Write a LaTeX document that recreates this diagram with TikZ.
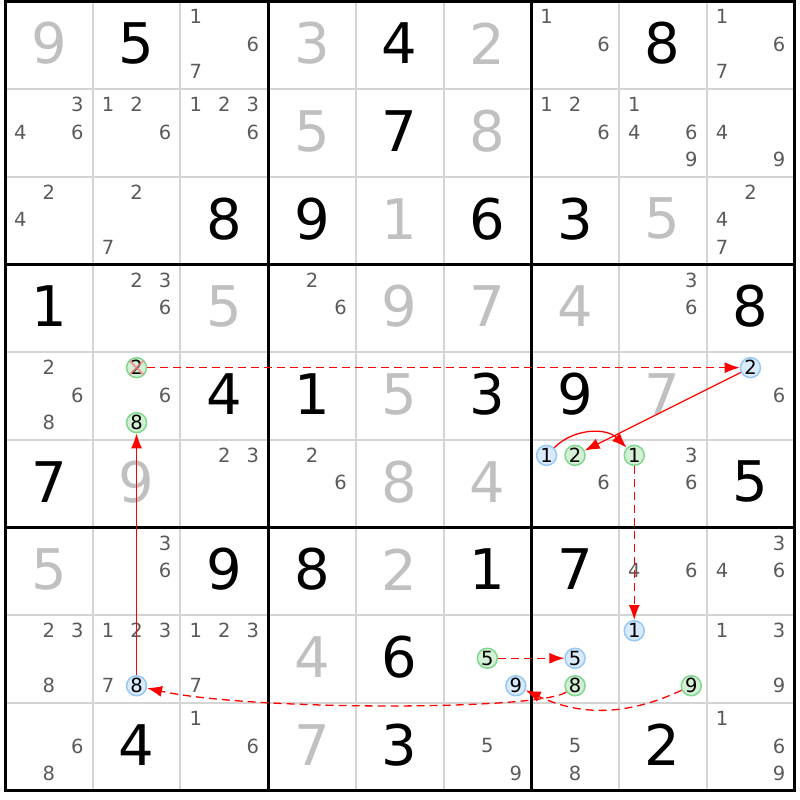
\documentclass[tikz,border=0pt]{standalone}
\usepackage{fontspec}
\setmainfont{DejaVu Sans}
\usetikzlibrary{arrows.meta}

\definecolor{candgray}{RGB}{90,90,90}
\definecolor{placedgray}{RGB}{192,192,192}
\definecolor{thinline}{RGB}{212,212,212}
\definecolor{greenfill}{RGB}{212,240,212}
\definecolor{greenline}{RGB}{128,216,144}
\definecolor{bluefill}{RGB}{216,234,252}
\definecolor{blueline}{RGB}{150,200,245}
\definecolor{crossout}{RGB}{240,140,140}

% centre of a cell, and of a candidate in it
\newcommand{\cellpos}[2]{%
  \pgfmathsetmacro{\px}{5+(#2-0.5)*87.7}%
  \pgfmathsetmacro{\py}{1.5+(#1-0.5)*87.7-2}}
\newcommand{\candpos}[3]{%
  \pgfmathsetmacro{\px}{5+(#2-0.5)*87.7+(mod(#3-1,3)-1)*28.5}%
  \pgfmathsetmacro{\py}{0.5+(#1-0.5)*87.7+(int((#3-1)/3)-1)*27.5}}

\begin{document}
\begin{tikzpicture}[x=1pt,y=-1pt,
    given/.style={font=\fontsize{56}{56}\selectfont,inner sep=0pt},
    placed/.style={given,text=placedgray},
    cand/.style={font=\fontsize{19.5}{19.5}\selectfont,text=candgray,inner sep=0pt},
    greencand/.style={circle,draw=greenline,fill=greenfill,line width=1.5pt,
      inner sep=0pt,minimum size=20pt,font=\fontsize{19.5}{19.5}\selectfont},
    bluecand/.style={greencand,draw=blueline,fill=bluefill},
    strong/.style={red,line width=1.3pt,-{Latex[length=15pt,width=11pt]}},
    weak/.style={strong,dash pattern=on 8pt off 5pt}]
    \useasboundingbox (0,0) rectangle (800,800);

    % grid
    \foreach \i in {1,2,4,5,7,8} {
      \draw[thinline,line width=2pt] (5+\i*87.7,1.5) -- (5+\i*87.7,790.8);
      \draw[thinline,line width=2pt] (5,1.5+\i*87.7) -- (794.3,1.5+\i*87.7);
    }
    \foreach \i in {3,6} {
      \draw[line width=3pt] (5+\i*87.7,1.5) -- (5+\i*87.7,790.8);
      \draw[line width=3pt] (5,1.5+\i*87.7) -- (794.3,1.5+\i*87.7);
    }
    \draw[line width=3pt] (5,1.5) rectangle (794.3,790.8);

    % solved cells
    \foreach \ro/\co/\dg in {1/2/5, 1/5/4, 1/8/8, 2/5/7, 3/3/8, 3/4/9, 3/6/6,
        3/7/3, 4/1/1, 4/9/8, 5/3/4, 5/4/1, 5/6/3, 5/7/9, 6/1/7, 6/9/5, 7/3/9,
        7/4/8, 7/6/1, 7/7/7, 8/5/6, 9/2/4, 9/5/3, 9/8/2} {
      \cellpos{\ro}{\co}
      \node[given] (d\ro\co) at (\px,\py) {\dg};
    }
    \foreach \ro/\co/\dg in {1/1/9, 1/4/3, 1/6/2, 2/4/5, 2/6/8, 3/5/1, 3/8/5,
        4/3/5, 4/5/9, 4/6/7, 4/7/4, 5/5/5, 5/8/7, 6/2/9, 6/5/8, 6/6/4, 7/1/5,
        7/5/2, 8/4/4, 9/4/7} {
      \cellpos{\ro}{\co}
      \node[placed] (d\ro\co) at (\px,\py) {\dg};
    }

    % candidates
    \foreach \ro/\co/\ds in {1/3/{1,6,7}, 1/7/{1,6}, 1/9/{1,6,7},
        2/1/{3,4,6}, 2/2/{1,2,6}, 2/3/{1,2,3,6}, 2/7/{1,2,6}, 2/8/{1,4,6,9},
        2/9/{4,9}, 3/1/{2,4}, 3/2/{2,7}, 3/9/{2,4,7},
        4/2/{2,3,6}, 4/4/{2,6}, 4/8/{3,6},
        5/1/{2,6,8}, 5/2/{6}, 5/9/{6},
        6/3/{2,3}, 6/4/{2,6}, 6/7/{6}, 6/8/{3,6},
        7/2/{3,6}, 7/8/{4,6}, 7/9/{3,4,6},
        8/1/{2,3,8}, 8/2/{1,2,3,7}, 8/3/{1,2,3,7}, 8/9/{1,3,9},
        9/1/{6,8}, 9/3/{1,6}, 9/6/{5,9}, 9/7/{5,8}, 9/9/{1,6,9}} {
      \foreach \dg in \ds {
        \candpos{\ro}{\co}{\dg}
        \node[cand] (c\ro\co-\dg) at (\px,\py) {\dg};
      }
    }
    \foreach \ro/\co/\dg in {5/2/2, 5/2/8, 6/7/2, 6/8/1, 8/6/5, 8/7/8, 8/8/9} {
      \candpos{\ro}{\co}{\dg}
      \node[greencand] (c\ro\co-\dg) at (\px,\py) {\dg};
    }
    \foreach \ro/\co/\dg in {5/9/2, 6/7/1, 8/8/1, 8/7/5, 8/6/9, 8/2/8} {
      \candpos{\ro}{\co}{\dg}
      \node[bluecand] (c\ro\co-\dg) at (\px,\py) {\dg};
    }
    \draw[crossout,line width=2pt,opacity=.8]
      ([shift={(-7,-7)}]c52-2.center) -- ([shift={(7,7)}]c52-2.center)
      ([shift={(-7,7)}]c52-2.center) -- ([shift={(7,-7)}]c52-2.center);

    % chain
    \draw[weak] (c52-2) -- (c59-2);
    \draw[strong] (c59-2) -- (c67-2);
    \draw[strong] (c67-1) to[bend left=45] (c68-1);
    \draw[weak] (c68-1) -- (c88-1);
    \draw[weak] (c86-5) -- (c87-5);
    \draw[weak] (c88-9) to[bend left=25] (c86-9);
    \draw[weak] (c87-8) .. controls +(-35,25) and +(113,25) .. (c82-8);
    \draw[strong] (c82-8) -- (c52-8);
\end{tikzpicture}
\end{document}
